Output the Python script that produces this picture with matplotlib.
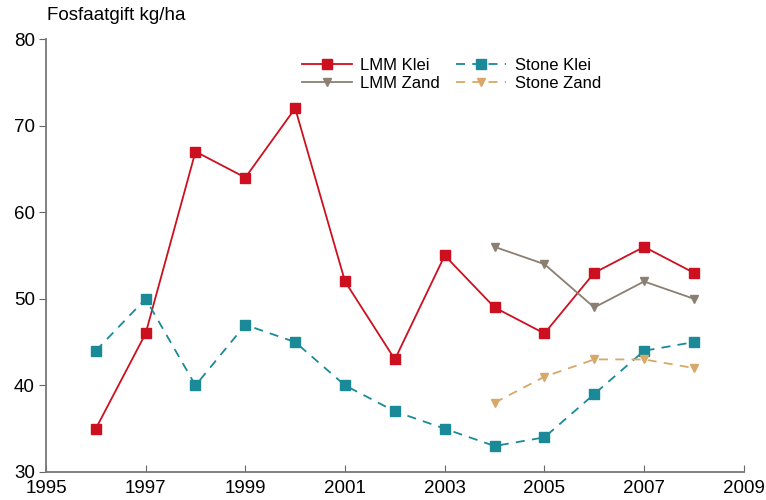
import matplotlib
matplotlib.use("Agg")
import matplotlib.pyplot as plt

years_klei = [1996, 1997, 1998, 1999, 2000, 2001, 2002, 2003, 2004, 2005, 2006, 2007, 2008]
lmm_klei = [35, 46, 67, 64, 72, 52, 43, 55, 49, 46, 53, 56, 53]
stone_klei = [44, 50, 40, 47, 45, 40, 37, 35, 33, 34, 39, 44, 45]
years_zand = [2004, 2005, 2006, 2007, 2008]
lmm_zand = [56, 54, 49, 52, 50]
stone_zand = [38, 41, 43, 43, 42]
x_ticks = [1995, 1997, 1999, 2001, 2003, 2005, 2007, 2009]
y_ticks = [30, 40, 50, 60, 70, 80]

plt.rcParams['font.family'] = ['Liberation Sans', 'DejaVu Sans']
fig = plt.figure(figsize=(7.66, 5.0), dpi=100)
ax = fig.add_axes([0.060, 0.056, 0.911, 0.866])

ax.plot(years_klei, lmm_klei, color='#cc1020', marker='s', markersize=7, lw=1.3, label='LMM Klei')
ax.plot(years_zand, lmm_zand, color='#8a7f72', marker='v', markersize=6, lw=1.3, label='LMM Zand')
ax.plot(years_klei, stone_klei, color='#1a8a98', marker='s', markersize=7, lw=1.3,
        linestyle=(0, (5, 4)), label='Stone Klei')
ax.plot(years_zand, stone_zand, color='#d8a868', marker='v', markersize=6, lw=1.3,
        linestyle=(0, (5, 4)), label='Stone Zand')

ax.set_xlim(1995, 2009)
ax.set_ylim(30, 80)
ax.set_xticks(x_ticks)
ax.set_yticks(y_ticks)
ax.tick_params(axis='x', direction='in', length=5, labelsize=13.5, pad=6, color='#666666')
ax.tick_params(axis='y', direction='out', length=5, labelsize=13.5, pad=3, color='#666666')
for s in ['top', 'right']:
    ax.spines[s].set_visible(False)
for s in ['left', 'bottom']:
    ax.spines[s].set_color('#777777')
    ax.spines[s].set_linewidth(1.3)

fig.text(0.062, 0.968, 'Fosfaatgift kg/ha', fontsize=13.5, va='center')

ax.legend(loc='upper left', bbox_to_anchor=(0.345, 0.99), ncol=2, frameon=False,
          fontsize=12, handlelength=3.0, labelspacing=0.15, columnspacing=1.0,
          handletextpad=0.5)

fig.savefig('out.png', dpi=100)
